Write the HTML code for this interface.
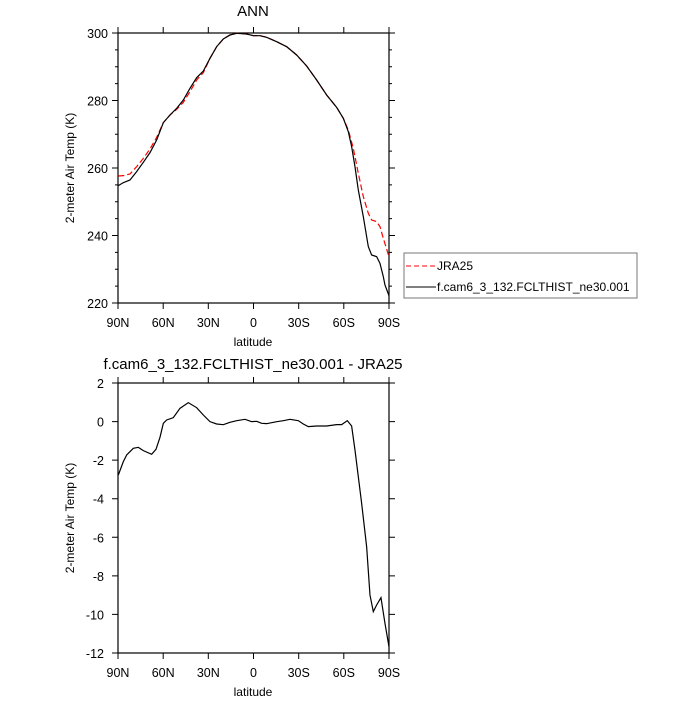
<!DOCTYPE html>
<html><head><meta charset="utf-8"><style>
body{margin:0;background:#fff}
svg text{font-family:"Liberation Sans",sans-serif;fill:#000}
</style></head><body>
<svg width="700" height="700" viewBox="0 0 700 700" xmlns="http://www.w3.org/2000/svg">
<g font-size="12.5" text-anchor="middle">
<text x="253" y="16" font-size="15">ANN</text>
<text x="253" y="369" font-size="15">f.cam6_3_132.FCLTHIST_ne30.001 - JRA25</text>
<rect x="118" y="33" width="271" height="270" fill="none" stroke="#000" stroke-width="1.2"/>
<g stroke="#000" stroke-width="1">
<path d="M112,33h6M112,100.5h6M112,168h6M112,235.5h6M112,303h6M389,33h6M389,100.5h6M389,168h6M389,235.5h6M389,303h6"/>
<path d="M118,33v-6M163.2,33v-6M208.3,33v-6M253.5,33v-6M298.7,33v-6M343.8,33v-6M389,33v-6M118,303v6M163.2,303v6M208.3,303v6M253.5,303v6M298.7,303v6M343.8,303v6M389,303v6"/>
<path d="M115,49.9h3M115,66.8h3M115,83.6h3M115,117.4h3M115,134.3h3M115,151.1h3M115,184.9h3M115,201.8h3M115,218.6h3M115,252.4h3M115,269.3h3M115,286.1h3M389,49.9h3M389,66.8h3M389,83.6h3M389,117.4h3M389,134.3h3M389,151.1h3M389,184.9h3M389,201.8h3M389,218.6h3M389,252.4h3M389,269.3h3M389,286.1h3"/>
</g>
<g text-anchor="end"><text x="108" y="38">300</text><text x="108" y="105.5">280</text><text x="108" y="173">260</text><text x="108" y="240.5">240</text><text x="108" y="308">220</text></g>
<text x="118" y="327">90N</text><text x="163.2" y="327">60N</text><text x="208.3" y="327">30N</text><text x="253.5" y="327">0</text><text x="298.7" y="327">30S</text><text x="343.8" y="327">60S</text><text x="389" y="327">90S</text>
<text x="253" y="346" font-size="12">latitude</text>
<text transform="translate(74,168) rotate(-90)" font-size="12">2-meter Air Temp (K)</text>
<g transform="translate(60,0) scale(0.3333)" fill="none" stroke-width="3.6">
<polyline stroke="#f00" stroke-dasharray="18,9" points="175,528 190,527 210,522 230,500 250,475 270,447 290,412 310,368 330,345 350,328 370,307 390,275 410,240 430,218 450,175 470,140 490,117 510,105 530,100 560,102 580,107 600,107 620,112 650,125 680,140 710,165 740,198 770,240 800,285 830,322 850,355 865,390 880,445 895,520 910,590 925,640 935,660 950,665 960,680 970,715 987,770"/>
<polyline stroke="#000" points="175,557 190,548 210,540 230,515 250,487 270,458 290,420 310,368 330,345 350,325 370,300 390,265 410,233 430,213 450,175 470,140 490,117 510,105 530,100 560,102 580,107 600,107 620,112 650,125 680,140 710,165 740,198 770,240 800,285 830,322 850,355 865,395 875,440 885,500 895,570 910,650 925,740 935,765 950,770 960,790 970,830 975,855 987,887"/>
</g>
<rect x="404" y="253" width="233" height="45" fill="none" stroke="#777" stroke-width="1"/>
<line x1="406" y1="266" x2="436" y2="266" stroke="#f00" stroke-dasharray="5,3"/>
<line x1="406" y1="287" x2="436" y2="287" stroke="#000"/>
<g text-anchor="start" font-size="12"><text x="437" y="270">JRA25</text><text x="437" y="291">f.cam6_3_132.FCLTHIST_ne30.001</text></g>
<rect x="118" y="383" width="271" height="270" fill="none" stroke="#000" stroke-width="1.2"/>
<g stroke="#000" stroke-width="1">
<path d="M112,383h6M112,421.6h6M112,460.1h6M112,498.7h6M112,537.3h6M112,575.9h6M112,614.4h6M112,653h6M389,383h6M389,421.6h6M389,460.1h6M389,498.7h6M389,537.3h6M389,575.9h6M389,614.4h6M389,653h6"/>
<path d="M118,383v-6M163.2,383v-6M208.3,383v-6M253.5,383v-6M298.7,383v-6M343.8,383v-6M389,383v-6M118,653v6M163.2,653v6M208.3,653v6M253.5,653v6M298.7,653v6M343.8,653v6M389,653v6"/>
</g>
<g text-anchor="end"><text x="104" y="388">2</text><text x="104" y="426.6">0</text><text x="104" y="465.1">-2</text><text x="104" y="503.7">-4</text><text x="104" y="542.3">-6</text><text x="104" y="580.9">-8</text><text x="104" y="619.4">-10</text><text x="104" y="658">-12</text></g>
<text x="118" y="677">90N</text><text x="163.2" y="677">60N</text><text x="208.3" y="677">30N</text><text x="253.5" y="677">0</text><text x="298.7" y="677">30S</text><text x="343.8" y="677">60S</text><text x="389" y="677">90S</text>
<text x="253" y="696" font-size="12">latitude</text>
<text transform="translate(74,518) rotate(-90)" font-size="12">2-meter Air Temp (K)</text>
<g transform="translate(60,360) scale(0.3333)" fill="none" stroke-width="3.6">
<polyline stroke="#000" points="175,345 190,305 200,285 220,265 235,262 250,272 275,283 288,268 300,232 310,190 320,180 340,173 360,145 385,128 410,143 430,165 450,185 470,192 490,194 510,187 530,182 555,178 575,185 590,184 605,190 620,191 650,185 670,182 690,178 715,182 730,192 745,200 770,198 800,198 830,194 845,194 862,182 875,198 885,270 905,430 920,560 930,705 940,755 950,735 963,713 975,790 987,860"/>
</g>
</g>
</svg>
</body></html>
